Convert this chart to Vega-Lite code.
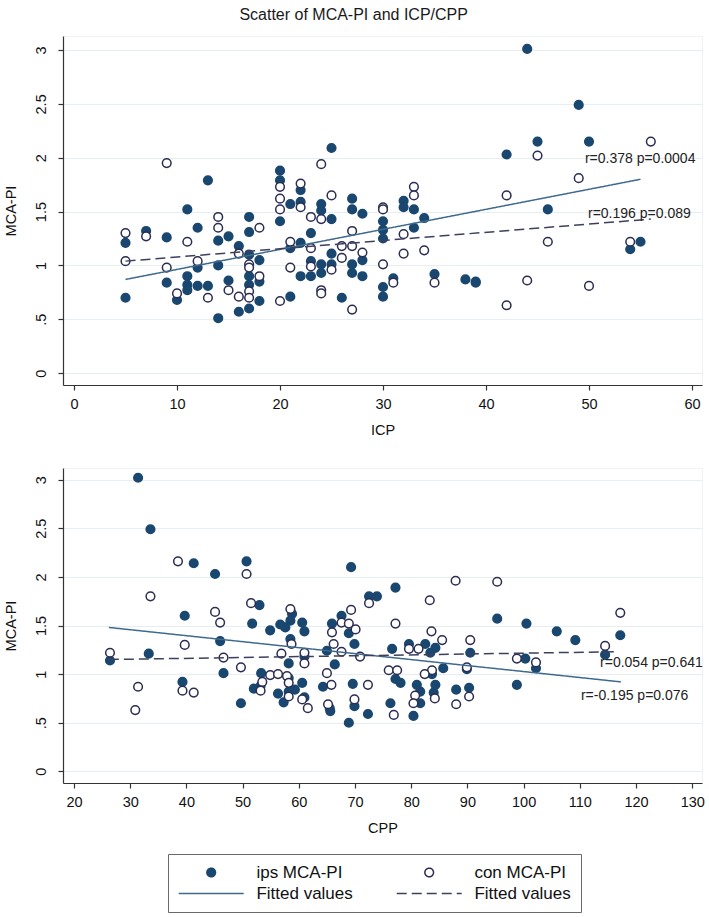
{
  "$schema": "https://vega.github.io/schema/vega-lite/v6.json",
  "background": "white",
  "padding": {"left": 2, "top": 6, "right": 5, "bottom": 5},
  "title": {"text": "Scatter of MCA-PI and ICP/CPP", "font": "Liberation Sans", "fontSize": 16, "fontWeight": "normal", "color": "#1a1a1a", "anchor": "middle", "offset": 13},
  "spacing": 29,
  "resolve": {"legend": {"shape": "independent", "fill": "independent", "stroke": "independent", "strokeDash": "independent"}},
  "config": {
    "view": {"stroke": "#eef2f4"},
    "font": "Liberation Sans",
    "axis": {"labelFont": "Liberation Sans", "titleFont": "Liberation Sans", "labelFontSize": 14.5, "titleFontSize": 14.5, "titleFontWeight": "normal", "labelColor": "#111", "titleColor": "#111", "domainColor": "#333", "tickColor": "#333", "tickSize": 5, "domainWidth": 1.2, "tickWidth": 1.2},
    "legend": {"columns": 2, "strokeColor": "#6a6a6a", "padding": 10, "labelFontSize": 17, "labelFont": "Liberation Sans", "labelColor": "#111", "columnPadding": 43, "rowPadding": 3, "labelOffset": 36.7, "symbolOffset": 24.7, "symbolStrokeWidth": 1.5, "clipHeight": 17, "symbolOpacity": 1, "symbolSize": 75}
  },
  "datasets": {
    "top": [
      {"icp":13,"pi":1.79,"grp":"ips"},{"icp":11,"pi":1.52,"grp":"ips"},{"icp":12,"pi":1.35,"grp":"ips"},{"icp":7,"pi":1.32,"grp":"ips"},{"icp":5,"pi":1.21,"grp":"ips"},{"icp":17,"pi":1.45,"grp":"ips"},{"icp":17,"pi":1.31,"grp":"ips"},{"icp":20,"pi":1.88,"grp":"ips"},{"icp":20,"pi":1.79,"grp":"ips"},{"icp":20,"pi":1.41,"grp":"ips"},{"icp":21,"pi":1.57,"grp":"ips"},{"icp":22,"pi":1.70,"grp":"ips"},{"icp":22,"pi":1.59,"grp":"ips"},{"icp":23,"pi":1.30,"grp":"ips"},{"icp":25,"pi":2.09,"grp":"ips"},{"icp":24,"pi":1.57,"grp":"ips"},{"icp":24,"pi":1.51,"grp":"ips"},{"icp":25,"pi":1.43,"grp":"ips"},{"icp":27,"pi":1.62,"grp":"ips"},{"icp":27,"pi":1.52,"grp":"ips"},{"icp":28,"pi":1.48,"grp":"ips"},{"icp":30,"pi":1.41,"grp":"ips"},{"icp":44,"pi":3.01,"grp":"ips"},{"icp":49,"pi":2.49,"grp":"ips"},{"icp":45,"pi":2.15,"grp":"ips"},{"icp":50,"pi":2.15,"grp":"ips"},{"icp":42,"pi":2.03,"grp":"ips"},{"icp":46,"pi":1.52,"grp":"ips"},{"icp":32,"pi":1.60,"grp":"ips"},{"icp":32,"pi":1.54,"grp":"ips"},{"icp":33,"pi":1.52,"grp":"ips"},{"icp":34,"pi":1.44,"grp":"ips"},{"icp":33,"pi":1.35,"grp":"ips"},{"icp":30,"pi":1.33,"grp":"ips"},{"icp":30,"pi":1.25,"grp":"ips"},{"icp":31,"pi":0.88,"grp":"ips"},{"icp":35,"pi":0.92,"grp":"ips"},{"icp":38,"pi":0.87,"grp":"ips"},{"icp":39,"pi":0.85,"grp":"ips"},{"icp":39,"pi":0.84,"grp":"ips"},{"icp":55,"pi":1.22,"grp":"ips"},{"icp":54,"pi":1.15,"grp":"ips"},{"icp":30,"pi":0.80,"grp":"ips"},{"icp":30,"pi":0.71,"grp":"ips"},{"icp":9,"pi":1.26,"grp":"ips"},{"icp":14,"pi":1.23,"grp":"ips"},{"icp":15,"pi":1.27,"grp":"ips"},{"icp":16,"pi":1.18,"grp":"ips"},{"icp":17,"pi":1.10,"grp":"ips"},{"icp":18,"pi":1.05,"grp":"ips"},{"icp":17,"pi":0.90,"grp":"ips"},{"icp":18,"pi":0.85,"grp":"ips"},{"icp":17,"pi":0.82,"grp":"ips"},{"icp":18,"pi":0.67,"grp":"ips"},{"icp":17,"pi":0.60,"grp":"ips"},{"icp":16,"pi":0.57,"grp":"ips"},{"icp":15,"pi":0.86,"grp":"ips"},{"icp":14,"pi":1.00,"grp":"ips"},{"icp":14,"pi":0.51,"grp":"ips"},{"icp":13,"pi":0.81,"grp":"ips"},{"icp":12,"pi":0.98,"grp":"ips"},{"icp":12,"pi":0.81,"grp":"ips"},{"icp":11,"pi":0.90,"grp":"ips"},{"icp":11,"pi":0.82,"grp":"ips"},{"icp":11,"pi":0.77,"grp":"ips"},{"icp":10,"pi":0.68,"grp":"ips"},{"icp":9,"pi":0.84,"grp":"ips"},{"icp":5,"pi":0.70,"grp":"ips"},{"icp":21,"pi":0.71,"grp":"ips"},{"icp":21,"pi":1.16,"grp":"ips"},{"icp":22,"pi":1.21,"grp":"ips"},{"icp":22,"pi":0.90,"grp":"ips"},{"icp":23,"pi":0.90,"grp":"ips"},{"icp":23,"pi":1.04,"grp":"ips"},{"icp":24,"pi":1.01,"grp":"ips"},{"icp":24,"pi":0.93,"grp":"ips"},{"icp":25,"pi":1.01,"grp":"ips"},{"icp":25,"pi":1.11,"grp":"ips"},{"icp":26,"pi":0.70,"grp":"ips"},{"icp":27,"pi":1.01,"grp":"ips"},{"icp":27,"pi":0.93,"grp":"ips"},{"icp":28,"pi":1.05,"grp":"ips"},{"icp":28,"pi":0.90,"grp":"ips"},
      {"icp":9,"pi":1.95,"grp":"con"},{"icp":14,"pi":1.45,"grp":"con"},{"icp":14,"pi":1.35,"grp":"con"},{"icp":5,"pi":1.30,"grp":"con"},{"icp":18,"pi":1.35,"grp":"con"},{"icp":20,"pi":1.73,"grp":"con"},{"icp":20,"pi":1.62,"grp":"con"},{"icp":20,"pi":1.52,"grp":"con"},{"icp":22,"pi":1.76,"grp":"con"},{"icp":22,"pi":1.54,"grp":"con"},{"icp":23,"pi":1.45,"grp":"con"},{"icp":24,"pi":1.94,"grp":"con"},{"icp":25,"pi":1.65,"grp":"con"},{"icp":24,"pi":1.43,"grp":"con"},{"icp":27,"pi":1.32,"grp":"con"},{"icp":30,"pi":1.54,"grp":"con"},{"icp":30,"pi":1.52,"grp":"con"},{"icp":56,"pi":2.15,"grp":"con"},{"icp":45,"pi":2.02,"grp":"con"},{"icp":49,"pi":1.81,"grp":"con"},{"icp":42,"pi":1.65,"grp":"con"},{"icp":33,"pi":1.73,"grp":"con"},{"icp":33,"pi":1.65,"grp":"con"},{"icp":32,"pi":1.29,"grp":"con"},{"icp":32,"pi":1.11,"grp":"con"},{"icp":34,"pi":1.14,"grp":"con"},{"icp":30,"pi":1.01,"grp":"con"},{"icp":31,"pi":0.84,"grp":"con"},{"icp":35,"pi":0.84,"grp":"con"},{"icp":44,"pi":0.86,"grp":"con"},{"icp":42,"pi":0.63,"grp":"con"},{"icp":50,"pi":0.81,"grp":"con"},{"icp":46,"pi":1.22,"grp":"con"},{"icp":54,"pi":1.22,"grp":"con"},{"icp":7,"pi":1.27,"grp":"con"},{"icp":11,"pi":1.22,"grp":"con"},{"icp":16,"pi":1.11,"grp":"con"},{"icp":17,"pi":1.01,"grp":"con"},{"icp":17,"pi":0.98,"grp":"con"},{"icp":18,"pi":0.90,"grp":"con"},{"icp":17,"pi":0.76,"grp":"con"},{"icp":17,"pi":0.70,"grp":"con"},{"icp":16,"pi":0.71,"grp":"con"},{"icp":15,"pi":0.77,"grp":"con"},{"icp":13,"pi":0.70,"grp":"con"},{"icp":12,"pi":1.04,"grp":"con"},{"icp":10,"pi":0.74,"grp":"con"},{"icp":9,"pi":0.98,"grp":"con"},{"icp":5,"pi":1.04,"grp":"con"},{"icp":20,"pi":0.67,"grp":"con"},{"icp":21,"pi":0.98,"grp":"con"},{"icp":21,"pi":1.22,"grp":"con"},{"icp":23,"pi":0.99,"grp":"con"},{"icp":23,"pi":1.16,"grp":"con"},{"icp":24,"pi":0.77,"grp":"con"},{"icp":24,"pi":0.74,"grp":"con"},{"icp":25,"pi":0.96,"grp":"con"},{"icp":26,"pi":1.18,"grp":"con"},{"icp":26,"pi":1.07,"grp":"con"},{"icp":27,"pi":1.18,"grp":"con"},{"icp":27,"pi":0.59,"grp":"con"},{"icp":28,"pi":1.12,"grp":"con"}
    ],
    "topfit": [
      {"icp":5,"pi":0.87,"grp":"fit_ips"},{"icp":55,"pi":1.80,"grp":"fit_ips"},
      {"icp":5,"pi":1.04,"grp":"fit_con"},{"icp":56,"pi":1.43,"grp":"fit_con"}
    ],
    "toplab": [
      {"icp":49.6,"pi":1.99,"label":"r=0.378 p=0.0004"},
      {"icp":49.9,"pi":1.48,"label":"r=0.196 p=0.089"}
    ],
    "bot": [
      {"cpp":31.4,"pi":3.02,"grp":"ips"},{"cpp":33.6,"pi":2.49,"grp":"ips"},{"cpp":41.3,"pi":2.14,"grp":"ips"},{"cpp":50.7,"pi":2.16,"grp":"ips"},{"cpp":45.1,"pi":2.03,"grp":"ips"},{"cpp":69.3,"pi":2.10,"grp":"ips"},{"cpp":39.7,"pi":1.60,"grp":"ips"},{"cpp":51.7,"pi":1.52,"grp":"ips"},{"cpp":53.0,"pi":1.71,"grp":"ips"},{"cpp":54.9,"pi":1.45,"grp":"ips"},{"cpp":56.7,"pi":1.51,"grp":"ips"},{"cpp":57.6,"pi":1.48,"grp":"ips"},{"cpp":58.8,"pi":1.62,"grp":"ips"},{"cpp":58.5,"pi":1.55,"grp":"ips"},{"cpp":60.6,"pi":1.53,"grp":"ips"},{"cpp":61.0,"pi":1.44,"grp":"ips"},{"cpp":65.9,"pi":1.52,"grp":"ips"},{"cpp":67.6,"pi":1.60,"grp":"ips"},{"cpp":68.9,"pi":1.42,"grp":"ips"},{"cpp":72.5,"pi":1.80,"grp":"ips"},{"cpp":73.9,"pi":1.80,"grp":"ips"},{"cpp":77.2,"pi":1.89,"grp":"ips"},{"cpp":95.3,"pi":1.57,"grp":"ips"},{"cpp":100.5,"pi":1.52,"grp":"ips"},{"cpp":105.9,"pi":1.44,"grp":"ips"},{"cpp":117.2,"pi":1.40,"grp":"ips"},{"cpp":109.2,"pi":1.35,"grp":"ips"},{"cpp":114.5,"pi":1.20,"grp":"ips"},{"cpp":100.3,"pi":1.16,"grp":"ips"},{"cpp":102.2,"pi":1.06,"grp":"ips"},{"cpp":98.8,"pi":0.89,"grp":"ips"},{"cpp":90.5,"pi":1.22,"grp":"ips"},{"cpp":89.9,"pi":1.05,"grp":"ips"},{"cpp":90.3,"pi":0.86,"grp":"ips"},{"cpp":88.0,"pi":0.84,"grp":"ips"},{"cpp":84.3,"pi":1.27,"grp":"ips"},{"cpp":83.4,"pi":1.22,"grp":"ips"},{"cpp":82.5,"pi":1.31,"grp":"ips"},{"cpp":79.6,"pi":1.31,"grp":"ips"},{"cpp":76.6,"pi":1.26,"grp":"ips"},{"cpp":85.7,"pi":1.06,"grp":"ips"},{"cpp":83.7,"pi":1.00,"grp":"ips"},{"cpp":84.3,"pi":0.89,"grp":"ips"},{"cpp":84.0,"pi":0.81,"grp":"ips"},{"cpp":81.0,"pi":0.89,"grp":"ips"},{"cpp":81.6,"pi":0.82,"grp":"ips"},{"cpp":81.6,"pi":0.70,"grp":"ips"},{"cpp":80.4,"pi":0.57,"grp":"ips"},{"cpp":76.3,"pi":0.70,"grp":"ips"},{"cpp":77.2,"pi":0.95,"grp":"ips"},{"cpp":78.1,"pi":0.91,"grp":"ips"},{"cpp":26.4,"pi":1.14,"grp":"ips"},{"cpp":33.3,"pi":1.21,"grp":"ips"},{"cpp":39.3,"pi":0.92,"grp":"ips"},{"cpp":46.0,"pi":1.34,"grp":"ips"},{"cpp":46.6,"pi":1.01,"grp":"ips"},{"cpp":49.7,"pi":0.70,"grp":"ips"},{"cpp":53.3,"pi":1.01,"grp":"ips"},{"cpp":52.0,"pi":0.85,"grp":"ips"},{"cpp":53.2,"pi":0.88,"grp":"ips"},{"cpp":56.3,"pi":0.80,"grp":"ips"},{"cpp":57.3,"pi":0.71,"grp":"ips"},{"cpp":58.2,"pi":0.96,"grp":"ips"},{"cpp":58.2,"pi":0.82,"grp":"ips"},{"cpp":59.3,"pi":0.84,"grp":"ips"},{"cpp":60.6,"pi":0.91,"grp":"ips"},{"cpp":61.0,"pi":0.76,"grp":"ips"},{"cpp":58.2,"pi":1.11,"grp":"ips"},{"cpp":58.5,"pi":1.36,"grp":"ips"},{"cpp":61.0,"pi":1.18,"grp":"ips"},{"cpp":65.0,"pi":1.24,"grp":"ips"},{"cpp":66.4,"pi":1.10,"grp":"ips"},{"cpp":64.3,"pi":0.87,"grp":"ips"},{"cpp":65.5,"pi":0.65,"grp":"ips"},{"cpp":65.6,"pi":0.62,"grp":"ips"},{"cpp":69.9,"pi":1.31,"grp":"ips"},{"cpp":69.6,"pi":0.90,"grp":"ips"},{"cpp":69.9,"pi":0.67,"grp":"ips"},{"cpp":72.3,"pi":0.59,"grp":"ips"},{"cpp":68.9,"pi":0.50,"grp":"ips"},
      {"cpp":38.5,"pi":2.16,"grp":"con"},{"cpp":50.7,"pi":2.03,"grp":"con"},{"cpp":33.6,"pi":1.80,"grp":"con"},{"cpp":45.1,"pi":1.64,"grp":"con"},{"cpp":46.0,"pi":1.53,"grp":"con"},{"cpp":51.5,"pi":1.73,"grp":"con"},{"cpp":58.5,"pi":1.67,"grp":"con"},{"cpp":65.9,"pi":1.43,"grp":"con"},{"cpp":67.6,"pi":1.53,"grp":"con"},{"cpp":69.3,"pi":1.66,"grp":"con"},{"cpp":68.9,"pi":1.52,"grp":"con"},{"cpp":70.1,"pi":1.46,"grp":"con"},{"cpp":72.5,"pi":1.73,"grp":"con"},{"cpp":87.9,"pi":1.96,"grp":"con"},{"cpp":95.3,"pi":1.95,"grp":"con"},{"cpp":83.3,"pi":1.76,"grp":"con"},{"cpp":77.2,"pi":1.52,"grp":"con"},{"cpp":117.2,"pi":1.63,"grp":"con"},{"cpp":83.6,"pi":1.44,"grp":"con"},{"cpp":85.5,"pi":1.35,"grp":"con"},{"cpp":90.5,"pi":1.35,"grp":"con"},{"cpp":114.5,"pi":1.29,"grp":"con"},{"cpp":98.8,"pi":1.16,"grp":"con"},{"cpp":102.2,"pi":1.12,"grp":"con"},{"cpp":89.9,"pi":1.07,"grp":"con"},{"cpp":90.3,"pi":0.77,"grp":"con"},{"cpp":88.0,"pi":0.69,"grp":"con"},{"cpp":79.6,"pi":1.26,"grp":"con"},{"cpp":81.3,"pi":1.26,"grp":"con"},{"cpp":83.7,"pi":1.04,"grp":"con"},{"cpp":82.4,"pi":1.00,"grp":"con"},{"cpp":84.2,"pi":0.75,"grp":"con"},{"cpp":80.7,"pi":0.78,"grp":"con"},{"cpp":80.4,"pi":0.70,"grp":"con"},{"cpp":76.9,"pi":0.58,"grp":"con"},{"cpp":76.0,"pi":1.04,"grp":"con"},{"cpp":77.5,"pi":1.04,"grp":"con"},{"cpp":26.4,"pi":1.22,"grp":"con"},{"cpp":31.4,"pi":0.87,"grp":"con"},{"cpp":30.9,"pi":0.63,"grp":"con"},{"cpp":39.7,"pi":1.30,"grp":"con"},{"cpp":39.3,"pi":0.83,"grp":"con"},{"cpp":41.3,"pi":0.81,"grp":"con"},{"cpp":46.6,"pi":1.17,"grp":"con"},{"cpp":49.7,"pi":1.07,"grp":"con"},{"cpp":54.9,"pi":0.99,"grp":"con"},{"cpp":56.3,"pi":1.00,"grp":"con"},{"cpp":53.5,"pi":0.92,"grp":"con"},{"cpp":53.2,"pi":0.83,"grp":"con"},{"cpp":57.9,"pi":0.98,"grp":"con"},{"cpp":58.2,"pi":0.91,"grp":"con"},{"cpp":58.2,"pi":0.77,"grp":"con"},{"cpp":60.6,"pi":0.74,"grp":"con"},{"cpp":61.6,"pi":0.65,"grp":"con"},{"cpp":56.9,"pi":1.21,"grp":"con"},{"cpp":58.7,"pi":1.31,"grp":"con"},{"cpp":61.0,"pi":1.22,"grp":"con"},{"cpp":61.0,"pi":1.11,"grp":"con"},{"cpp":66.2,"pi":1.31,"grp":"con"},{"cpp":65.0,"pi":1.01,"grp":"con"},{"cpp":65.8,"pi":0.89,"grp":"con"},{"cpp":65.2,"pi":0.69,"grp":"con"},{"cpp":67.6,"pi":1.23,"grp":"con"},{"cpp":70.9,"pi":1.18,"grp":"con"},{"cpp":69.9,"pi":0.74,"grp":"con"},{"cpp":72.3,"pi":0.89,"grp":"con"}
    ],
    "botfit": [
      {"cpp":26.2,"pi":1.48,"grp":"fit_ips"},{"cpp":117.3,"pi":0.92,"grp":"fit_ips"},
      {"cpp":26.2,"pi":1.15,"grp":"fit_con"},{"cpp":116.3,"pi":1.23,"grp":"fit_con"}
    ],
    "botlab": [
      {"cpp":113.6,"pi":1.11,"label":"r=0.054 p=0.641"},
      {"cpp":110.2,"pi":0.77,"label":"r=-0.195 p=0.076"}
    ]
  },
  "vconcat": [
    {
      "width": 639, "height": 349,
      "layer": [
        {
          "data": {"name": "top"},
          "mark": {"type": "point", "opacity": 1, "strokeWidth": 1.5, "size": 75},
          "encoding": {
            "x": {"field": "icp", "type": "quantitative", "scale": {"domain": [-1.07, 60.97], "nice": false, "zero": false}, "axis": {"values": [0,10,20,30,40,50,60], "title": "ICP", "grid": false, "labelPadding": 7, "titlePadding": 13}},
            "y": {"field": "pi", "type": "quantitative", "scale": {"domain": [-0.11, 3.13], "nice": false, "zero": false}, "axis": {"values": [0,0.5,1,1.5,2,2.5,3], "format": "~g", "title": "MCA-PI", "grid": true, "gridColor": "#e6eef1", "gridWidth": 1.2, "labelAngle": -90, "labelAlign": "center", "labelBaseline": "bottom", "labelPadding": 10, "titlePadding": 15, "labelExpr": "datum.value == 0.5 ? '.5' : datum.label"}},
            "shape": {"field": "grp", "type": "nominal", "scale": {"domain": ["ips","fit_ips","con","fit_con"], "range": ["circle","M-7.5,0H7.5","circle","M-7.5,0H7.5"]}, "legend": null},
            "fill": {"field": "grp", "type": "nominal", "scale": {"domain": ["ips","fit_ips","con","fit_con"], "range": ["#1a476f","transparent","#ffffff","transparent"]}, "legend": null},
            "stroke": {"field": "grp", "type": "nominal", "scale": {"domain": ["ips","fit_ips","con","fit_con"], "range": ["#1a476f","#3f6a8e","#2b2d52","#3d3f5e"]}, "legend": null}
          }
        },
        {
          "data": {"name": "topfit"},
          "mark": {"type": "line", "strokeWidth": 1.5},
          "encoding": {
            "x": {"field": "icp", "type": "quantitative"},
            "y": {"field": "pi", "type": "quantitative"},
            "stroke": {"field": "grp", "type": "nominal", "legend": null},
            "strokeDash": {"field": "grp", "type": "nominal", "scale": {"domain": ["ips","fit_ips","con","fit_con"], "range": [[1,0],[1,0],[1,0],[10,5]]}, "legend": null}
          }
        },
        {
          "data": {"name": "toplab"},
          "mark": {"type": "text", "align": "left", "baseline": "middle", "fontSize": 14, "font": "Liberation Sans", "color": "#222"},
          "encoding": {
            "x": {"field": "icp", "type": "quantitative"},
            "y": {"field": "pi", "type": "quantitative"},
            "text": {"field": "label"}
          }
        }
      ]
    },
    {
      "width": 639, "height": 315,
      "layer": [
        {
          "data": {"name": "bot"},
          "mark": {"type": "point", "opacity": 1, "strokeWidth": 1.5, "size": 75},
          "encoding": {
            "x": {"field": "cpp", "type": "quantitative", "scale": {"domain": [18.04, 131.74], "nice": false, "zero": false}, "axis": {"values": [20,30,40,50,60,70,80,90,100,110,120,130], "title": "CPP", "grid": false, "labelPadding": 7, "titlePadding": 13}},
            "y": {"field": "pi", "type": "quantitative", "scale": {"domain": [-0.12, 3.12], "nice": false, "zero": false}, "axis": {"values": [0,0.5,1,1.5,2,2.5,3], "format": "~g", "title": "MCA-PI", "grid": true, "gridColor": "#e6eef1", "gridWidth": 1.2, "labelAngle": -90, "labelAlign": "center", "labelBaseline": "bottom", "labelPadding": 10, "titlePadding": 15, "labelExpr": "datum.value == 0.5 ? '.5' : datum.label"}},
            "shape": {"field": "grp", "type": "nominal", "legend": {"title": null, "orient": "none", "legendX": 105, "legendY": 386, "labelExpr": "datum.label == 'ips' ? 'ips MCA-PI' : datum.label == 'con' ? 'con MCA-PI' : 'Fitted values'"}},
            "fill": {"field": "grp", "type": "nominal", "legend": {"title": null, "orient": "none", "legendX": 105, "legendY": 386, "labelExpr": "datum.label == 'ips' ? 'ips MCA-PI' : datum.label == 'con' ? 'con MCA-PI' : 'Fitted values'"}},
            "stroke": {"field": "grp", "type": "nominal", "legend": {"title": null, "orient": "none", "legendX": 105, "legendY": 386, "labelExpr": "datum.label == 'ips' ? 'ips MCA-PI' : datum.label == 'con' ? 'con MCA-PI' : 'Fitted values'"}}
          }
        },
        {
          "data": {"name": "botfit"},
          "mark": {"type": "line", "strokeWidth": 1.5},
          "encoding": {
            "x": {"field": "cpp", "type": "quantitative"},
            "y": {"field": "pi", "type": "quantitative"},
            "stroke": {"field": "grp", "type": "nominal", "legend": {"title": null, "orient": "none", "legendX": 105, "legendY": 386, "labelExpr": "datum.label == 'ips' ? 'ips MCA-PI' : datum.label == 'con' ? 'con MCA-PI' : 'Fitted values'"}},
            "strokeDash": {"field": "grp", "type": "nominal", "legend": {"title": null, "orient": "none", "legendX": 105, "legendY": 386, "labelExpr": "datum.label == 'ips' ? 'ips MCA-PI' : datum.label == 'con' ? 'con MCA-PI' : 'Fitted values'"}}
          }
        },
        {
          "data": {"name": "botlab"},
          "mark": {"type": "text", "align": "left", "baseline": "middle", "fontSize": 14, "font": "Liberation Sans", "color": "#222"},
          "encoding": {
            "x": {"field": "cpp", "type": "quantitative"},
            "y": {"field": "pi", "type": "quantitative"},
            "text": {"field": "label"}
          }
        }
      ]
    }
  ]
}
